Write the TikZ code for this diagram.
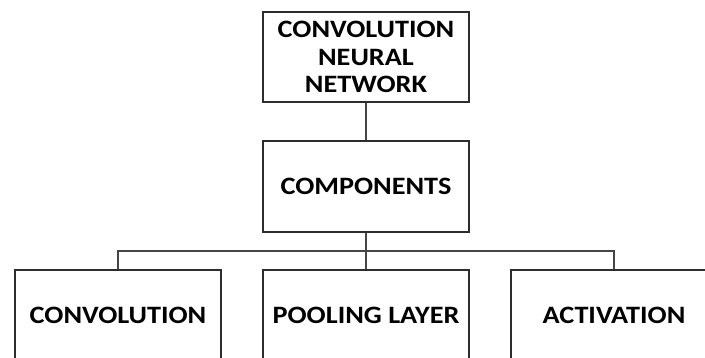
\documentclass[tikz,border=0pt]{standalone}
\usepackage{fontspec}
\setmainfont[BoldFeatures={FakeStretch=1.13}]{Carlito}
\usetikzlibrary{positioning}
\definecolor{boxline}{RGB}{45,45,45}
\definecolor{linkline}{RGB}{70,70,70}

\begin{document}
\begin{tikzpicture}[x=1pt, y=1pt,
  block/.style={draw=boxline, line width=1.1pt, fill=white, align=center,
    font=\fontsize{25}{27.5}\selectfont\bfseries,
    minimum width=206pt, minimum height=90pt, inner sep=0pt},
  link/.style={draw=linkline, line width=1.1pt}]
\clip (0,0) rectangle (705,358);
% Top
\node[block] (cnn) at (366,301) {CONVOLUTION\\NEURAL\\NETWORK};
% Middle
\node[block, minimum height=91pt] (comp) at (366,171.5) {COMPONENTS};
% Bottom row
\node[block] (conv) at (118,43) {CONVOLUTION};
\node[block] (pool) at (366,43) {POOLING LAYER};
\node[block] (act) at (614,43) {ACTIVATION};
\coordinate (bus) at (366,107);
\draw[link] (cnn) -- (comp);
\draw[link] (comp) -- (bus);
\draw[link] (conv.north) |- (bus) -| (act.north);
\draw[link] (bus) -- (pool);
\end{tikzpicture}
\end{document}
